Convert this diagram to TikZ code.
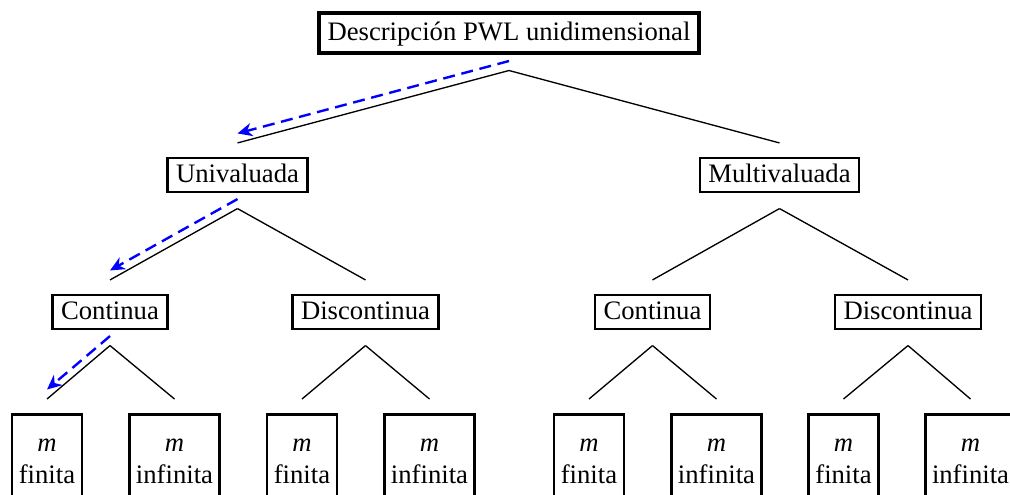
\documentclass[tikz,border=0pt]{standalone}
\usepackage{fontspec}
\setmainfont{Liberation Serif}
\usetikzlibrary{calc,arrows.meta}
\begin{document}
\begin{tikzpicture}[x=0.75pt,y=-0.75pt,
  box/.style={draw, line width=1.9pt, font=\fontsize{20}{24}\selectfont,
    inner xsep=6.4pt, inner ysep=3.1pt, text height=15pt, text depth=4pt},
  rootbox/.style={box, line width=3pt, inner ysep=5.5pt},
  leaf/.style={draw, line width=1.9pt, font=\fontsize{20}{24}\selectfont,
    align=center, inner xsep=5pt, inner ysep=18.5pt, anchor=north},
  branch/.style={line width=1pt},
  route/.style={blue, line width=1.8pt, dash pattern=on 9pt off 5pt,
    -{Stealth[length=11pt,width=10pt,inset=3.5pt]}}
]
\useasboundingbox (0,0) rectangle (1010,494);
\clip (0,0) rectangle (1010,494);

% tree levels
\node[rootbox] (root) at (509,33) {Descripción PWL unidimensional};
\node[box] (uni)   at (237.5,175) {Univaluada};
\node[box] (multi) at (779.5,175) {Multivaluada};
\node[box] (uc) at (110,312)   {Continua};
\node[box] (ud) at (365.5,312) {Discontinua};
\node[box] (mc) at (652.5,312) {Continua};
\node[box] (md) at (908,312)   {Discontinua};

% leaves
\node[leaf] (uc1) at (47,413)    {\textit{m}\\finita};
\node[leaf] (uc2) at (174.5,413) {\textit{m}\\infinita};
\node[leaf] (ud1) at (302,413)   {\textit{m}\\finita};
\node[leaf] (ud2) at (429.5,413) {\textit{m}\\infinita};
\node[leaf] (mc1) at (589,413)   {\textit{m}\\finita};
\node[leaf] (mc2) at (716.5,413) {\textit{m}\\infinita};
\node[leaf] (md1) at (843.5,413) {\textit{m}\\finita};
\node[leaf] (md2) at (970.5,413) {\textit{m}\\infinita};

% branches
\newcommand\branchline[2]{\draw[branch] ($(#1.south)+(0,15.5)$) -- ($(#2.north)+(0,-14)$);}
\newcommand\routeline[2]{\draw[route] ($(#1.south)+(0,6)$) -- ($(#2.north)+(0,-23.5)$);}
\branchline{root}{uni}
\branchline{root}{multi}
\branchline{uni}{uc}
\branchline{uni}{ud}
\branchline{multi}{mc}
\branchline{multi}{md}
\branchline{uc}{uc1}
\branchline{uc}{uc2}
\branchline{ud}{ud1}
\branchline{ud}{ud2}
\branchline{mc}{mc1}
\branchline{mc}{mc2}
\branchline{md}{md1}
\branchline{md}{md2}

% highlighted path
\routeline{root}{uni}
\routeline{uni}{uc}
\routeline{uc}{uc1}
\end{tikzpicture}
\end{document}
